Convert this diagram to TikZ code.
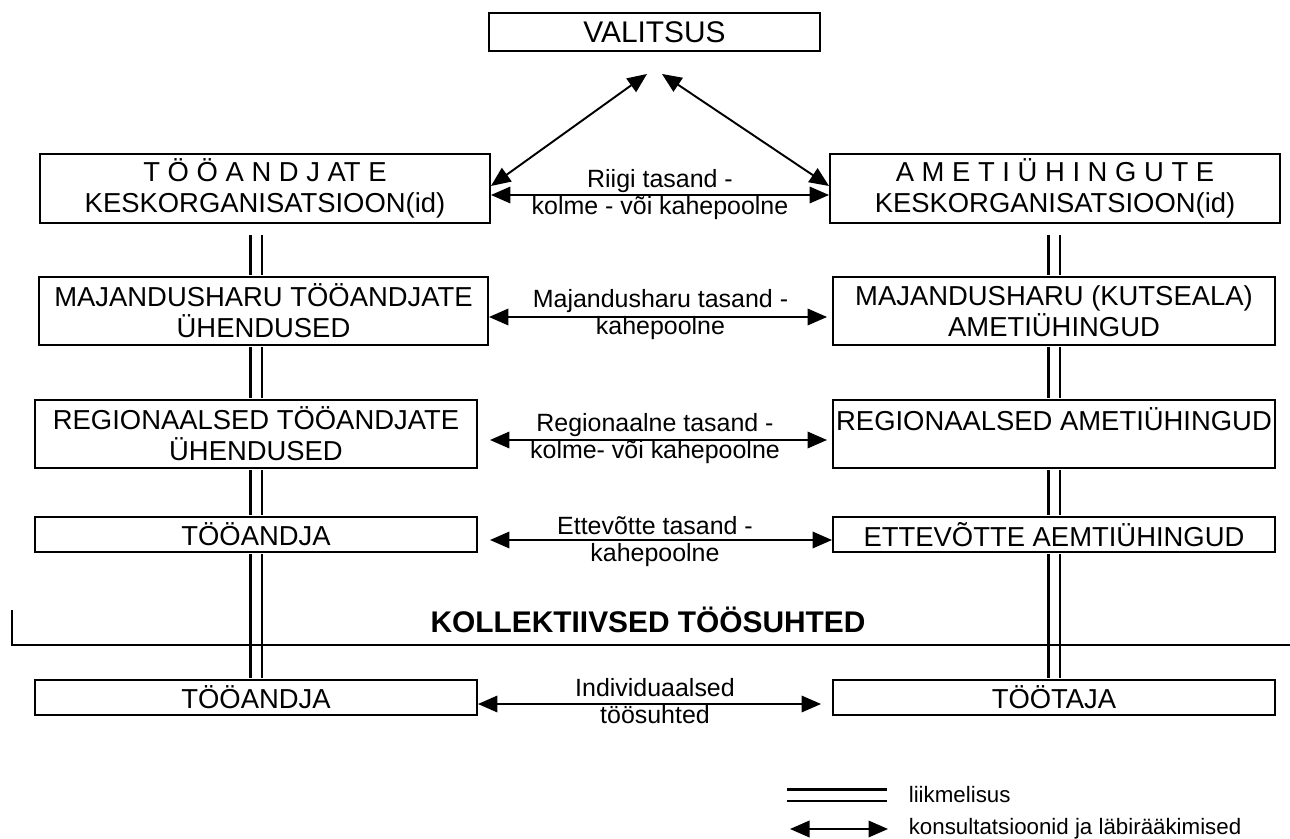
\documentclass[tikz,border=0pt]{standalone}
\usepackage{fontspec}
\setmainfont{Liberation Sans}
\usetikzlibrary{arrows.meta, positioning}
\tikzset{
  every picture/.style={line width=1.1pt},
  box/.style={draw, align=center, inner sep=0pt, minimum width=8.84cm, minimum height=1.36cm, font=\fontsize{15.6}{17.5}\selectfont},
  flat/.style={box, minimum height=0.7cm},
  arrow/.style={{Triangle[length=3.9mm, width=3.3mm]}-{Triangle[length=3.9mm, width=3.3mm]}},
  member/.style={double, double distance=1.8mm, line width=1.2pt, shorten <=0.6pt, shorten >=0.6pt},
  lvl/.style={align=center, font=\fontsize{14.2}{15.4}\selectfont},
  note/.style={anchor=west, font=\fontsize{12.7}{15}\selectfont},
}

\begin{document}
\begin{tikzpicture}
  \useasboundingbox (0,0) rectangle (25.8,16.76);
  % government
  \node[box, minimum width=6.62cm, minimum height=0.76cm, font=\fontsize{17}{19}\selectfont] (val) at (13.09,16.12) {VALITSUS};
  % employers
  \node[box, minimum width=9cm, minimum height=1.38cm] (emp1) at (5.30,12.99) {T Ö Ö A N D J AT E\\KESKORGANISATSIOON(id)};
  \node[box, minimum width=8.98cm] (emp2) at (5.27,10.54) {MAJANDUSHARU TÖÖANDJATE\\ÜHENDUSED};
  \node[box] (emp3) at (5.12,8.08) {REGIONAALSED TÖÖANDJATE\\ÜHENDUSED};
  \node[flat] (emp4) at (5.12,6.07) {TÖÖANDJA};
  \node[flat] (emp5) at (5.12,2.81) {TÖÖANDJA};
  % unions
  \node[box, minimum width=9cm, minimum height=1.38cm] (uni1) at (21.10,12.99) {A M E T I Ü H I N G U T E\\KESKORGANISATSIOON(id)};
  \node[box] (uni2) at (21.08,10.54) {MAJANDUSHARU (KUTSEALA)\\AMETIÜHINGUD};
  \node[box] (uni3) at (21.08,8.08) {REGIONAALSED AMETIÜHINGUD\\\mbox{}};
  \node[flat] (uni4) at (21.08,6.07) {ETTEVÕTTE AEMTIÜHINGUD};
  \node[flat] (uni5) at (21.08,2.81) {TÖÖTAJA};
  % consultations
  \draw[arrow] ([xshift=-1.5mm, yshift=-4.4mm]val.south) -- ([yshift=0.5mm]emp1.east);
  \draw[arrow] ([xshift=1.5mm, yshift=-4.4mm]val.south) -- ([yshift=0.5mm]uni1.west);
  \draw[arrow] ([yshift=-1.3mm]emp1.east) -- node[lvl] {Riigi tasand -\\kolme - või kahepoolne} ([yshift=-1.3mm]uni1.west);
  \draw[arrow, shorten >=1mm] ([yshift=-1.2mm]emp2.east) -- node[lvl, yshift=0.5mm] {Majandusharu tasand -\\kahepoolne} ([yshift=-1.2mm]uni2.west);
  \draw[arrow, shorten <=2.4mm, shorten >=1mm] ([yshift=-1.2mm]emp3.east) -- node[lvl, yshift=0.2mm] {Regionaalne tasand -\\kolme- või kahepoolne} ([yshift=-1.2mm]uni3.west);
  \draw[arrow, shorten <=2.4mm] ([yshift=-1.1mm]emp4.east) -- node[lvl, yshift=-0.3mm] {Ettevõtte tasand -\\kahepoolne} ([yshift=-1.1mm]uni4.west);
  \draw[arrow, shorten >=2.2mm] ([yshift=-1.3mm]emp5.east) -- node[lvl, yshift=0.6mm] {Individuaalsed\\töösuhted} ([yshift=-1.3mm]uni5.west);
  % membership
  \draw[member] ([yshift=-2mm]emp1.south -| emp3.north) -- (emp3.north |- emp2.north);
  \draw[member] (emp2.south -| emp3.north) -- (emp3.north);
  \draw[member] (emp3.south) -- (emp4.north);
  \draw[member] (emp4.south) -- (emp5.north);
  \draw[member] ([yshift=-2mm]uni1.south -| uni2.north) -- (uni2.north);
  \draw[member] (uni2.south) -- (uni3.north);
  \draw[member] (uni3.south) -- (uni4.north);
  \draw[member] (uni4.south) -- (uni5.north);
  % collective / individual border
  \draw (0.24,4.56) -- (0.24,3.86) -- (25.8,3.86);
  \node[font=\bfseries\fontsize{17}{19}\selectfont] (coll) at (12.96,4.36) {KOLLEKTIIVSED TÖÖSUHTED};
  % legend
  \coordinate (m1) at (15.72,0.86);
  \coordinate (m2) at (17.76,0.86);
  \draw[member] (m1) -- (m2);
  \node[note] (mtxt) at (18.04,0.86) {liikmelisus};
  \coordinate (k1) at (15.8,0.18);
  \draw[arrow] (k1) -- (m2 |- k1);
  \node[note] (ktxt) at (18.04,0.18) {konsultatsioonid ja läbirääkimised};
\end{tikzpicture}
\end{document}
